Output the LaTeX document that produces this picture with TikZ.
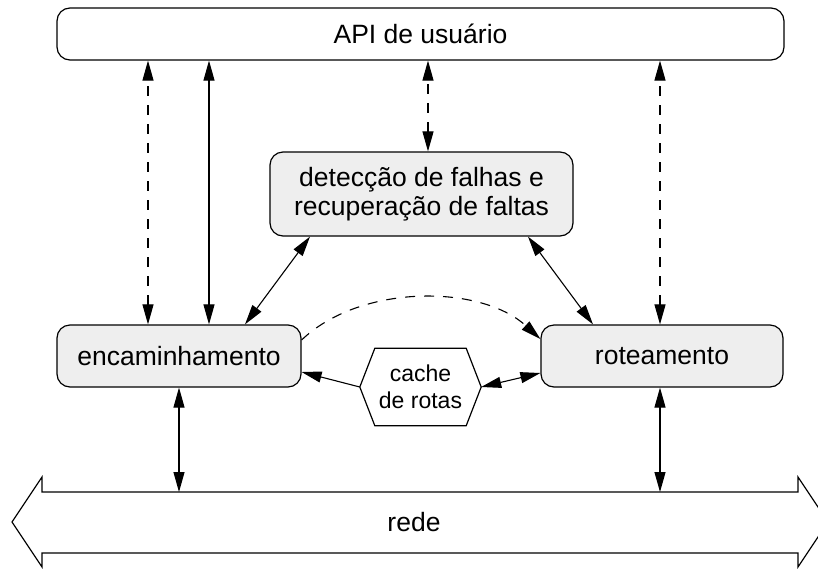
\documentclass[tikz,border=0pt]{standalone}
\usepackage{fontspec}
\setmainfont{Liberation Sans}
\usetikzlibrary{arrows.meta}
\definecolor{boxgray}{HTML}{EEEEEE}
\begin{document}
\begin{tikzpicture}[x=1pt,y=-1pt,
  txt/.style={font=\fontsize{26.5pt}{29pt}\selectfont},
  box/.style={draw,line width=1.2pt,rounded corners=13pt,fill=boxgray,inner sep=0pt,align=center,txt},
  tipA/.tip={Triangle[length=20pt,width=11pt]},
  both/.style={line width=1.1pt,tipA-tipA},
  one/.style={line width=1.1pt,-tipA},
  dsh/.style={dash pattern=on 10pt off 9pt}
]
\useasboundingbox (0,0) rectangle (818,568);
% nodes
\node[box,fill=white,minimum width=727pt,minimum height=52pt] (api) at (420.5,34) {API de usuário};
\node[box,minimum width=303pt,minimum height=84pt] (det) at (421.5,194) {detecção de falhas e\\recuperação de faltas};
\node[box,minimum width=244pt,minimum height=62pt] (enc) at (179,356) {encaminhamento};
\node[box,minimum width=242pt,minimum height=62pt] (rot) at (662,356) {roteamento};
% cache hexagon
\node[inner sep=0pt,minimum width=91pt,minimum height=77pt,align=center,font=\fontsize{23pt}{27pt}\selectfont] (cache) at (420.5,387) {cache\\de rotas};
\coordinate (cl) at ([xshift=-15pt]cache.west);
\coordinate (cr) at ([xshift=15pt]cache.east);
\draw[line width=1.2pt] (cache.north west) -- (cache.north east) -- (cr) -- (cache.south east) -- (cache.south west) -- (cl) -- cycle;
% rede double arrow
\draw[line width=1.2pt] (12,522) -- (42,477) -- (42,492) -- (798,492) -- (798,477) -- (828,522) -- (798,567) -- (798,553) -- (42,553) -- (42,567) -- cycle;
\coordinate (redetop) at (420,492);
\node[txt] (rede) at (414,522) {rede};
% x positions
\coordinate (x1) at (148,0);
\coordinate (x2) at (209,0);
\coordinate (x3) at (428,0);
\coordinate (x4) at (660,0);
\coordinate (x5) at (179,0);
\coordinate (x6) at (660,0);
\coordinate (d1) at (310,0);
\coordinate (e1) at (245,0);
\coordinate (d2) at (528,0);
\coordinate (r2) at (593,0);
% connectors
\draw[both,dsh] (enc.north -| x1) -- (api.south -| x1);
\draw[both] (enc.north -| x2) -- (api.south -| x2);
\draw[both,dsh] (det.north -| x3) -- (api.south -| x3);
\draw[both,dsh] (rot.north -| x4) -- (api.south -| x4);
\draw[both] (det.south -| d1) -- (enc.north -| e1);
\draw[both] (det.south -| d2) -- (rot.north -| r2);
\draw[one,dsh] ([yshift=16pt]enc.east) .. controls (360,284) and (480,284) .. ([yshift=17pt]rot.west);
\draw[one] (cl) -- ([yshift=-16pt]enc.east);
\draw[both] (cr) -- ([yshift=-17pt]rot.west);
\draw[both] (enc.south -| x5) -- (redetop -| x5);
\draw[both] (rot.south -| x6) -- (redetop -| x6);
\end{tikzpicture}
\end{document}
